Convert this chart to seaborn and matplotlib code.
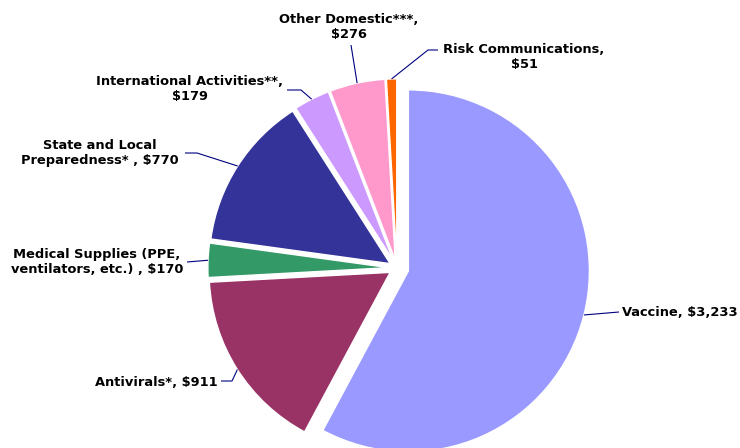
import numpy as np
import matplotlib
matplotlib.use("Agg")
import matplotlib.pyplot as plt
import seaborn as sns

# data ($ millions)
labels = [
    "Vaccine, $3,233",
    "Antivirals*, $911",
    "Medical Supplies (PPE,\nventilators, etc.) , $170",
    "State and Local\nPreparedness* , $770",
    "International Activities**,\n$179",
    "Other Domestic***,\n$276",
    "Risk Communications,\n$51",
]
values = [3233, 911, 170, 770, 179, 276, 51]
colors = ["#9999FF", "#993366", "#339966", "#333399", "#CC99FF", "#FF99CC", "#FF6600"]
explode = [0.065, 0.045, 0.045, 0.045, 0.045, 0.045, 0.045]

# label layout in pixels (top-left origin)
text_pos = [(622, 313, "left"), (218, 382, "right"), (97, 262, "center"),
            (100, 153, "center"), (190, 89, "center"), (349, 27, "center"),
            (524, 57, "center")]
leader_start = [(619, 312), (221, 381), (187, 262), (185, 153), (287, 90), (351, 45), (438, 50)]
leader_bend = [None, (232, 381), None, (197, 153), (301, 90), None, (428, 50)]

W, H = 740, 448
CX, CY, R = 397, 268, 181  # pie centre and radius in pixels

sns.set_theme(style="white")
plt.rcParams["font.family"] = ["DejaVu Sans"]

fig = plt.figure(figsize=(W / 100, H / 100), dpi=100)
ax = fig.add_axes([0, 0, 1, 1])


def px(x, y):
    return (x - CX) / R, (CY - y) / R


wedges, _ = ax.pie(values, colors=colors, startangle=90, counterclock=False,
                   explode=explode, radius=1,
                   wedgeprops=dict(edgecolor="white", linewidth=1))

for w, lab, (tx, ty, ha), st, bend in zip(wedges, labels, text_pos, leader_start, leader_bend):
    mid = np.deg2rad((w.theta1 + w.theta2) / 2)
    ex = w.center[0] + w.r * np.cos(mid)
    ey = w.center[1] + w.r * np.sin(mid)
    pts = [px(*st)]
    if bend is not None:
        pts.append(px(*bend))
    pts.append((ex, ey))
    xs, ys = zip(*pts)
    ax.plot(xs, ys, color="#000080", lw=0.8, solid_capstyle="butt")
    x, y = px(tx, ty)
    ax.text(x, y, lab, ha=ha, va="center", multialignment="center",
            fontsize=9.4, fontweight="bold", color="black", linespacing=1.28)

ax.set_xlim(-CX / R, (W - CX) / R)
ax.set_ylim(-(H - CY) / R, CY / R)
ax.set_aspect("auto")
ax.axis("off")

fig.savefig("out.png", dpi=100, facecolor="white")
